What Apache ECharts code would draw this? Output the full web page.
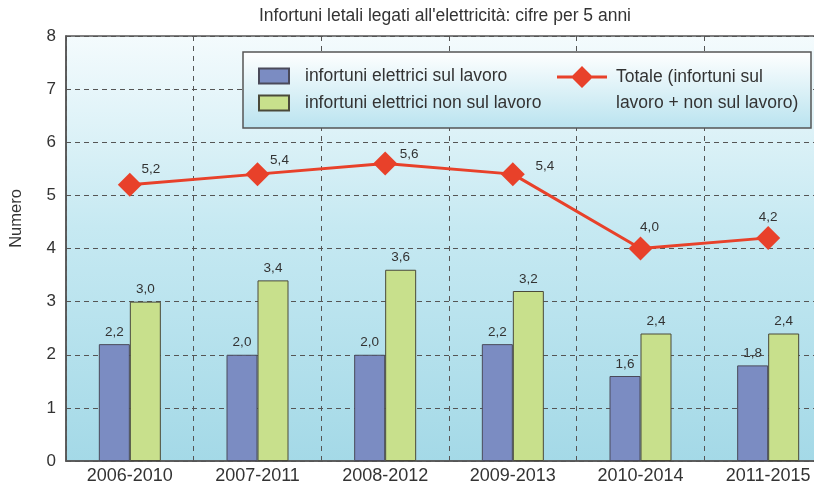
<!DOCTYPE html>
<html>
<head>
<meta charset="utf-8">
<script src="https://cdn.jsdelivr.net/npm/echarts@6/dist/echarts.min.js"></script>
<style>
  html, body { margin: 0; padding: 0; background: #fff; }
  #main { width: 814px; height: 488px; }
</style>
</head>
<body>
<div id="main"></div>
<script>
var categories = ['2006-2010', '2007-2011', '2008-2012', '2009-2013', '2010-2014', '2011-2015'];
var sulLavoro = [2.2, 2.0, 2.0, 2.2, 1.6, 1.8];
var nonSulLavoro = [3.0, 3.4, 3.6, 3.2, 2.4, 2.4];
var totale = [5.2, 5.4, 5.6, 5.4, 4.0, 4.2];
// where each total label sits relative to its diamond
var totLabelShift = [[21, -15], [22, -14], [24, -9], [32, -8], [9, -21], [0, -21]];

var FONT = '"Liberation Sans", Arial, sans-serif';
var LINE_NAME = 'Totale (infortuni sul\nlavoro + non sul lavoro)';
// line + diamond drawn in the upper part of a tall icon, so it sits next to the first text line
var lineIcon = 'path://M0 0M50 52M0 11.5L50 11.5L50 14.5L0 14.5ZM25 2L36 13L25 24L14 13Z';
function fmt(p) { return p.value.toFixed(1).replace('.', ','); }

var myChart = echarts.init(document.getElementById('main'));
myChart.setOption({
    animation: false,
    textStyle: { fontFamily: FONT },
    title: {
        text: "Infortuni letali legati all'elettricità: cifre per 5 anni",
        left: 440, textAlign: 'center', top: 2,
        textStyle: { fontSize: 17.5, fontWeight: 'normal', color: '#333', fontFamily: FONT }
    },
    grid: {
        left: 66, width: 766, top: 36, bottom: 27,
        outerBoundsMode: 'none',
        containLabel: false,
        show: true,
        borderColor: '#555', borderWidth: 1.5,
        backgroundColor: new echarts.graphic.LinearGradient(0, 0, 0, 1, [
            { offset: 0, color: '#f4fbfd' },
            { offset: 0.45, color: '#c6e9f2' },
            { offset: 1, color: '#a4d9e7' }
        ])
    },
    graphic: [{
        type: 'rect', z: 5,
        shape: { x: 243, y: 52, width: 568, height: 76 },
        style: {
            fill: new echarts.graphic.LinearGradient(0, 0, 0, 1, [
                { offset: 0, color: '#ffffff' },
                { offset: 1, color: '#b9e3ef' }
            ]),
            stroke: '#555', lineWidth: 1.5
        }
    }],
    legend: [{
        z: 6, padding: 0,
        data: ['infortuni elettrici sul lavoro', 'infortuni elettrici non sul lavoro'],
        orient: 'vertical', left: 258, top: 67,
        icon: 'rect',
        itemWidth: 30, itemHeight: 15, itemGap: 9,
        textStyle: { fontSize: 17.5, color: '#333', padding: [0, 0, 0, 11], fontFamily: FONT }
    }, {
        z: 6, padding: 0,
        data: [{ name: LINE_NAME, icon: lineIcon }],
        left: 557, top: 64,
        itemWidth: 50, itemHeight: 52,
        textStyle: { fontSize: 17.5, color: '#333', lineHeight: 26, padding: [0, 0, 0, 4], fontFamily: FONT }
    }],
    xAxis: {
        type: 'category',
        data: categories,
        axisLine: { lineStyle: { color: '#555', width: 1.5 } },
        axisTick: { show: false },
        axisLabel: { fontSize: 18, color: '#333', margin: 6 },
        splitLine: { show: true, lineStyle: { color: '#555', type: [5, 5], width: 1 } }
    },
    yAxis: {
        type: 'value', min: 0, max: 8, interval: 1,
        name: 'Numero', nameLocation: 'middle', nameGap: 41,
        nameTextStyle: { fontSize: 16.5, color: '#333', padding: [0, 0, 0, 60] },
        axisLine: { show: true, lineStyle: { color: '#555', width: 1.5 } },
        axisTick: { show: false },
        axisLabel: { fontSize: 17, color: '#333', margin: 10 },
        splitLine: { lineStyle: { color: '#555', type: [5, 4], width: 1 } }
    },
    series: [{
        name: 'infortuni elettrici sul lavoro',
        type: 'bar', barWidth: 31, barGap: '0%',
        data: sulLavoro,
        itemStyle: { color: '#7b8cc2', borderColor: '#4a4a5a', borderWidth: 1 },
        label: { show: true, position: 'top', distance: 5, fontSize: 13.5, color: '#333', formatter: fmt }
    }, {
        name: 'infortuni elettrici non sul lavoro',
        type: 'bar', barWidth: 31, barGap: '0%',
        data: nonSulLavoro,
        itemStyle: { color: '#c8e08c', borderColor: '#4a4a3a', borderWidth: 1 },
        label: { show: true, position: 'top', distance: 5, fontSize: 13.5, color: '#333', formatter: fmt }
    }, {
        name: LINE_NAME,
        type: 'line', z: 4,
        data: totale.map(function (v, i) {
            return { value: v, label: { offset: totLabelShift[i] } };
        }),
        symbol: 'diamond', symbolSize: 24,
        lineStyle: { color: '#e8412a', width: 3 },
        itemStyle: { color: '#e8412a' },
        label: { show: true, position: 'inside', fontSize: 13.5, color: '#333', formatter: fmt }
    }]
});
</script>
</body>
</html>
